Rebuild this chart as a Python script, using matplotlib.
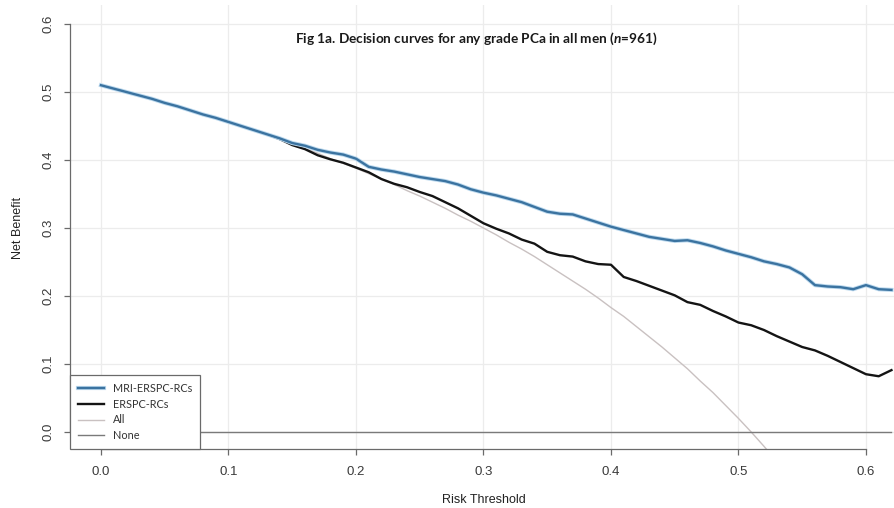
import numpy as np
import matplotlib
matplotlib.use('Agg')
import matplotlib.pyplot as plt
import matplotlib.patheffects as pe

# risk thresholds and net benefit values
thresholds = [0.00, 0.01, 0.02, 0.03, 0.04, 0.05, 0.06, 0.07, 0.08, 0.09,
              0.10, 0.11, 0.12, 0.13, 0.14, 0.15, 0.16, 0.17, 0.18, 0.19,
              0.20, 0.21, 0.22, 0.23, 0.24, 0.25, 0.26, 0.27, 0.28, 0.29,
              0.30, 0.31, 0.32, 0.33, 0.34, 0.35, 0.36, 0.37, 0.38, 0.39,
              0.40, 0.41, 0.42, 0.43, 0.44, 0.45, 0.46, 0.47, 0.48, 0.49,
              0.50, 0.51, 0.52, 0.53, 0.54, 0.55, 0.56, 0.57, 0.58, 0.59,
              0.60, 0.61, 0.62]

nb_mri = [0.510, 0.505, 0.500, 0.495, 0.490, 0.484, 0.479, 0.473, 0.467, 0.462,
          0.456, 0.450, 0.444, 0.438, 0.432, 0.425, 0.421, 0.415, 0.411, 0.408,
          0.402, 0.390, 0.386, 0.383, 0.379, 0.375, 0.372, 0.369, 0.364, 0.357,
          0.352, 0.348, 0.343, 0.338, 0.331, 0.324, 0.321, 0.320, 0.314, 0.308,
          0.302, 0.297, 0.292, 0.287, 0.284, 0.281, 0.282, 0.278, 0.273, 0.267,
          0.262, 0.257, 0.251, 0.247, 0.242, 0.232, 0.216, 0.214, 0.213, 0.210,
          0.216, 0.210, 0.209]

nb_erspc = [0.510, 0.505, 0.500, 0.495, 0.490, 0.484, 0.479, 0.473, 0.467, 0.462,
            0.456, 0.450, 0.444, 0.438, 0.431, 0.422, 0.416, 0.407, 0.401, 0.396,
            0.389, 0.382, 0.372, 0.365, 0.360, 0.353, 0.347, 0.338, 0.329, 0.318,
            0.307, 0.299, 0.292, 0.283, 0.277, 0.265, 0.260, 0.258, 0.251, 0.247,
            0.246, 0.228, 0.222, 0.215, 0.208, 0.201, 0.191, 0.187, 0.178, 0.170,
            0.161, 0.157, 0.150, 0.141, 0.133, 0.125, 0.120, 0.112, 0.103, 0.094,
            0.085, 0.082, 0.091]

nb_all = [0.510, 0.505, 0.500, 0.495, 0.490, 0.484, 0.479, 0.473, 0.467, 0.462,
          0.456, 0.449, 0.443, 0.437, 0.430, 0.424, 0.417, 0.410, 0.402, 0.395,
          0.388, 0.380, 0.372, 0.364, 0.355, 0.347, 0.338, 0.329, 0.319, 0.310,
          0.300, 0.290, 0.279, 0.269, 0.258, 0.246, 0.234, 0.222, 0.210, 0.197,
          0.183, 0.170, 0.155, 0.140, 0.125, 0.109, 0.093, 0.075, 0.058, 0.039,
          0.020, 0.000, -0.021, -0.043, -0.066, -0.089, -0.114, -0.139, -0.166, -0.193,
          -0.222, -0.251, -0.282]

nb_none = [0.0] * len(thresholds)

labels = ['MRI-ERSPC-RCs', 'ERSPC-RCs', 'All', 'None']
ticks = [0.0, 0.1, 0.2, 0.3, 0.4, 0.5, 0.6]
title = 'Fig 1a. Decision curves for any grade PCa in all men ($\\mathit{n}$=961)'

plt.rcParams['font.family'] = ['Liberation Sans', 'DejaVu Sans']
plt.rcParams['mathtext.fontset'] = 'custom'
plt.rcParams['mathtext.rm'] = 'Lato:bold'
plt.rcParams['mathtext.it'] = 'Lato:bold:italic'

fig = plt.figure(figsize=(8.94, 5.08), dpi=100)
ax = fig.add_axes([70 / 894, 59 / 508, 1 - 70 / 894, 444 / 508])

ax.set_xlim(-0.0243, 0.622)
ax.set_ylim(-0.025, 0.628)

for t in ticks:
    ax.axvline(t, color='#ececec', lw=0.9, zorder=0)
    ax.axhline(t, color='#ececec', lw=0.9, zorder=0)

ax.plot(thresholds, nb_mri, color='#3b73a0', lw=1.7, label=labels[0], zorder=4,
        path_effects=[pe.Stroke(linewidth=3.0, foreground='#bcd9ee'), pe.Normal()])
ax.plot(thresholds, nb_erspc, color='#141414', lw=1.7, label=labels[1], zorder=3)
ax.plot(thresholds, nb_all, color='#c9c1c1', lw=1.0, label=labels[2], zorder=2)
ax.plot(thresholds, nb_none, color='#7a7a7a', lw=1.0, label=labels[3], zorder=2)

for s in ['top', 'right']:
    ax.spines[s].set_visible(False)
ax.spines['left'].set_bounds(0.0, 0.6)
ax.spines['bottom'].set_bounds(0.0, 0.6)
for s in ['left', 'bottom']:
    ax.spines[s].set_color('#6a6a6a')
    ax.spines[s].set_linewidth(0.9)

ax.set_xticks(ticks)
ax.set_yticks(ticks)
ax.set_xticklabels(['%.1f' % t for t in ticks])
ax.set_yticklabels(['%.1f' % t for t in ticks], rotation=90, va='center')
ax.tick_params(direction='out', length=4.5, width=0.9, color='#6a6a6a',
               labelcolor='#3a3a3a', labelsize=9.5)
ax.tick_params(axis='x', pad=8)
ax.tick_params(axis='y', pad=7)

fig.text(18 / 894, 1 - 228 / 508, 'Net Benefit', rotation=90, ha='center', va='center',
         fontsize=9, color='#222222')
fig.text(484 / 894, 1 - 500 / 508, 'Risk Threshold', ha='center', va='center',
         fontsize=9, color='#222222')
fig.text(476 / 894, 1 - 39 / 508, title, ha='center', va='center',
         fontsize=9.8, fontweight='bold', family='Lato', color='#1a1a1a')

leg = ax.legend(loc='lower left', bbox_to_anchor=(0, 0), borderaxespad=0,
                prop={'family': 'Lato', 'size': 7.8}, labelspacing=0.42,
                handlelength=2.4, handletextpad=0.8, borderpad=0.75,
                fancybox=False, framealpha=1, labelcolor='#333333')
leg.get_frame().set_edgecolor('#6a6a6a')
leg.get_frame().set_linewidth(0.9)
leg.set_zorder(10)

fig.savefig('out.png', dpi=100)
